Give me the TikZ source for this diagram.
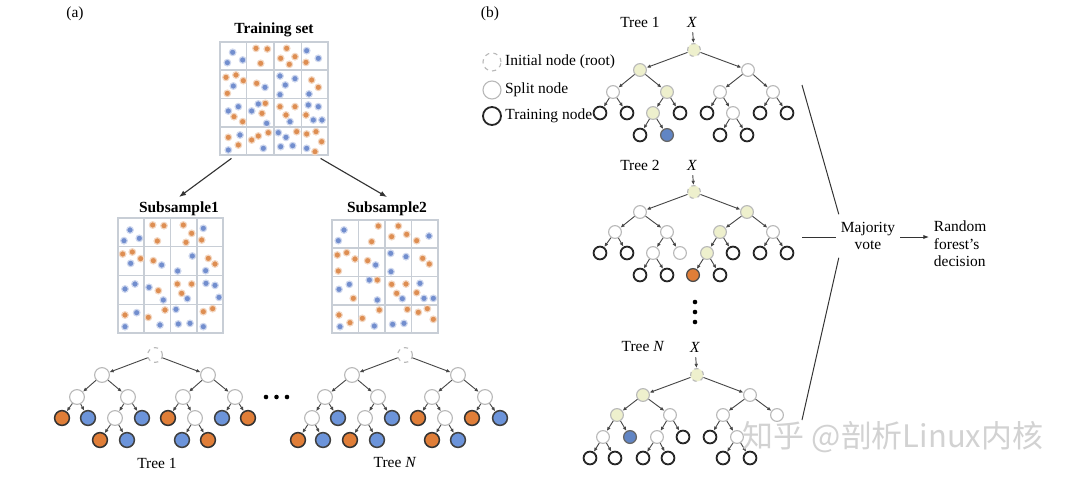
\documentclass[tikz,border=0pt]{standalone}
\usepackage{fontspec}
\setmainfont{Liberation Serif}
\newfontfamily\cjkfont{Noto Sans CJK SC}
\usetikzlibrary{arrows.meta,calc,positioning}

\definecolor{leaforange}{RGB}{224,126,56}
\definecolor{leafblue}{RGB}{108,148,218}
\definecolor{pathyellow}{RGB}{238,240,205}
\definecolor{dotorange}{RGB}{222,142,82}
\definecolor{dotblue}{RGB}{114,142,206}
\definecolor{gridgray}{RGB}{200,206,214}

\tikzset{
  treenode/.style={circle, minimum size=0.37cm, inner sep=0pt},
  splitnode/.style={treenode, draw=gray!55, line width=0.8pt, fill=white},
  rootnode/.style={splitnode, dashed},
  orangeleaf/.style={treenode, draw=black!80, line width=1.1pt, fill=leaforange},
  blueleaf/.style={treenode, draw=black!75, line width=1.1pt, fill=leafblue},
  % panel (b)
  bnode/.style={circle, minimum size=0.32cm, inner sep=0pt},
  bsplit/.style={bnode, draw=gray!55, line width=0.8pt, fill=white},
  bpath/.style={bsplit, fill=pathyellow},
  broot/.style={bpath, dashed},
  btrain/.style={bnode, draw=black!85, line width=1.3pt, fill=white},
  bblue/.style={bnode, draw=black!60, line width=0.9pt, fill=leafblue!90!black},
  borange/.style={bnode, draw=black!70, line width=0.9pt, fill=leaforange},
  treeedge/.style={draw=black!72, line width=0.65pt, -{Latex[length=3pt,width=2.6pt]}},
  gridbox/.style={draw=gridgray, line width=0.8pt, inner sep=0pt},
  gridline/.style={draw=gridgray, line width=0.8pt},
  odot/.style={fill=dotorange, draw=dotorange!35, line width=0.8pt},
  bdot/.style={fill=dotblue, draw=dotblue!35, line width=0.8pt},
  voteline/.style={draw=black!80, line width=0.7pt}
}

\newcommand{\cellgrid}[1]{%
  \foreach \i in {1,2,3} {
    \draw[gridline] ($(#1.south west)!\i/4!(#1.south east)$) -- ($(#1.north west)!\i/4!(#1.north east)$);
    \draw[gridline] ($(#1.south west)!\i/4!(#1.north west)$) -- ($(#1.south east)!\i/4!(#1.north east)$);
  }}

\begin{document}
\begin{tikzpicture}[x=0.025cm, y=-0.025cm, font=\fontsize{11}{12.5}\selectfont]
  \fill[white] (0,0) rectangle (1080,483);
  \useasboundingbox (0,0) rectangle (1080,483);

  % ---------- panel (a) ----------
  \node (alabel) at (75,14) {(a)};

  \node [gridbox, minimum width=2.7cm, minimum height=2.825cm] (train) at (274,98.5) {};
  \node [font=\bfseries\fontsize{11}{12.5}\selectfont, above=0pt of train] (trainlbl) {Training set};
  \cellgrid{train}

  \node [gridbox, minimum width=2.625cm, minimum height=2.875cm] (sub1) at (170.5,275.5) {};
  \node [font=\bfseries\fontsize{11}{12.5}\selectfont] (sub1lbl) at (179,209) {Subsample1};
  \cellgrid{sub1}

  \node [gridbox, minimum width=2.65cm, minimum height=2.825cm] (sub2) at (385,276.5) {};
  \node [font=\bfseries\fontsize{11}{12.5}\selectfont] (sub2lbl) at (387,209) {Subsample2};
  \cellgrid{sub2}

  \draw [-{Latex[length=5pt]}, line width=0.8pt, black!80] ([xshift=0.3cm,yshift=-2pt]train.south west) -- (sub1lbl.north);
  \draw [-{Latex[length=5pt]}, line width=0.8pt, black!80] ([xshift=-0.2cm,yshift=-2pt]train.south east) -- (sub2lbl.north);

  % data points
  \begin{scope}[shift={(200,0)}, scale=1/3]
    \foreach \x/\y in {168/145,202/147,182/190,260/145,242/175,285/170,268/193,318/187,78/232,108/225,130/242,82/280,170/250,335/240,355/262,102/350,128/365,196/310,186/340,240/320,285/320,258/345,318/345,85/412,115/435,155/420,175/408,205/398,290/395,320/402,348/395,365/425,345/455}
      \path[odot] (\x,\y) circle (10);
    \foreach \x/\y in {98/157,82/188,128/180,320/152,355/175,100/258,195/262,240/228,285/236,256/255,240/284,327/282,85/333,115/320,175/312,155/333,200/370,270/365,325/315,355/320,340/360,366/360,120/405,85/450,190/445,235/398,258/412,242/440,278/437,320/445}
      \path[bdot] (\x,\y) circle (10);
  \end{scope}
  \begin{scope}[shift={(100,190)}, scale=1/3]
    \foreach \x/\y in {158/105,192/107,172/153,250/105,275/130,258/157,305/150,68/192,97/186,122/206,160/212,325/205,345/222,175/302,232/282,275/282,245/310,75/375,145/382,195/360,310/365,338/356}
      \path[odot] (\x,\y) circle (10);
    \foreach \x/\y in {90/120,72/152,118/145,310/115,92/220,185/225,277/198,233/243,317/242,75/297,105/282,147/292,190/330,262/326,318/280,345/286,357/322,110/368,75/410,180/405,228/358,235/402,270/400,310/410}
      \path[bdot] (\x,\y) circle (10);
  \end{scope}
  \begin{scope}[shift={(320,190)}, scale=1/3]
    \foreach \x/\y in {175/108,155/155,235/108,260/133,215/140,290/152,52/195,80/188,105/207,55/243,143/212,308/205,328/222,100/325,172/270,215/283,258/282,230/310,290/308,57/375,90/398,127/385,178/360,262/358,295/367,322/356,340/388}
      \path[odot] (\x,\y) circle (10);
    \foreach \x/\y in {72/120,55/152,327/138,167/225,212/190,258/200,213/245,57/298,88/283,148/270,172/330,247/326,300/280,312/325,340/325,60/410,163/408,218/403,252/400}
      \path[bdot] (\x,\y) circle (10);
  \end{scope}

  % Tree 1 (a)
  \foreach \n/\x/\y/\s in {a0/155/355/rootnode, a1/102/375/splitnode, a2/208/375/splitnode,
      a3/77/397/splitnode, a4/128/397/splitnode, a5/183/397/splitnode, a6/235/397/splitnode,
      a7/62/418/orangeleaf, a8/88/418/blueleaf, a9/115/418/splitnode, a10/142/418/blueleaf,
      a11/168/418/orangeleaf, a12/195/418/splitnode, a13/222/418/blueleaf, a14/248/418/orangeleaf,
      a15/100/440/orangeleaf, a16/127/440/blueleaf, a17/182/440/blueleaf, a18/208/440/orangeleaf}
    \node [\s] (\n) at (\x,\y) {};
  \foreach \u/\v in {a0/a1,a0/a2,a1/a3,a1/a4,a2/a5,a2/a6,a3/a7,a3/a8,a4/a9,a4/a10,a5/a11,a5/a12,a6/a13,a6/a14,a9/a15,a9/a16,a12/a17,a12/a18}
    \draw [treeedge] (\u) -- (\v);
  \node (atree1) at (157,463) {Tree 1};

  \foreach \x in {266,276.5,287}
    \fill (\x,397) circle (2.3);

  % Tree N (a)
  \foreach \n/\x/\y/\s in {n0/405/355/rootnode, n1/352/375/splitnode, n2/458/375/splitnode,
      n3/325/397/splitnode, n4/378/397/splitnode, n5/432/397/splitnode, n6/485/397/splitnode,
      n7/312/418/splitnode, n8/338/418/blueleaf, n9/365/418/splitnode, n10/392/418/blueleaf,
      n11/418/418/orangeleaf, n12/445/418/splitnode, n13/472/418/orangeleaf, n14/500/418/blueleaf,
      n15/298/440/orangeleaf, n16/323/440/blueleaf, n17/350/440/orangeleaf, n18/377/440/blueleaf,
      n19/432/440/orangeleaf, n20/458/440/blueleaf}
    \node [\s] (\n) at (\x,\y) {};
  \foreach \u/\v in {n0/n1,n0/n2,n1/n3,n1/n4,n2/n5,n2/n6,n3/n7,n3/n8,n4/n9,n4/n10,n5/n11,n5/n12,n6/n13,n6/n14,n7/n15,n7/n16,n9/n17,n9/n18,n12/n19,n12/n20}
    \draw [treeedge] (\u) -- (\v);
  \node (atreeN) at (395,463) {Tree \textit{N}};

  % ---------- panel (b) ----------
  \node (blabel) at (490,14) {(b)};

  % legend
  \node [bsplit, dashed, minimum size=0.45cm] (lgroot) at (492,62) {};
  \node [right=-1pt of lgroot] (lgroottxt) {Initial node (root)};
  \node [bsplit, minimum size=0.45cm] (lgsplit) at (492,90) {};
  \node [right=-1pt of lgsplit] (lgsplittxt) {Split node};
  \node [btrain, minimum size=0.45cm] (lgtrain) at (492,116) {};
  \node [right=-1pt of lgtrain] (lgtraintxt) {Training node};

  % Tree 1 (b)
  \node (ptitle) at (640,22) {Tree 1};
  \node (px) at (692,22) {\textit{X}};
  \foreach \n/\x/\y/\s in {p0/694/50/broot, p1/640/70/bpath, p2/748/70/bsplit,
      p3/613/92/bsplit, p4/667/92/bpath, p5/720/92/bsplit, p6/773/92/bsplit,
      p7/600/113/btrain, p8/627/113/btrain, p9/653/113/bpath, p10/680/113/btrain,
      p11/707/113/btrain, p12/733/113/bsplit, p13/760/113/btrain, p14/787/113/btrain,
      p15/640/135/btrain, p16/667/135/bblue, p17/720/135/btrain, p18/747/135/btrain}
    \node [\s] (\n) at (\x,\y) {};
  \foreach \u/\v in {px/p0,p0/p1,p0/p2,p1/p3,p1/p4,p2/p5,p2/p6,p3/p7,p3/p8,p4/p9,p4/p10,p5/p11,p5/p12,p6/p13,p6/p14,p9/p15,p9/p16,p12/p17,p12/p18}
    \draw [treeedge] (\u) -- (\v);

  % Tree 2 (b)
  \node (qtitle) at (640,165) {Tree 2};
  \node (qx) at (692,165) {\textit{X}};
  \foreach \n/\x/\y/\s in {q0/694/192/broot, q1/640/212/bsplit, q2/747/212/bpath,
      q3/615/232/bsplit, q4/667/232/bsplit, q5/720/232/bpath, q6/773/232/bsplit,
      q7/600/253/btrain, q8/627/253/btrain, q9/653/253/bsplit, q10/680/253/bsplit,
      q11/707/253/bpath, q12/733/253/btrain, q13/760/253/btrain, q14/787/253/btrain,
      q15/640/275/btrain, q16/667/275/btrain, q17/693/275/borange, q18/720/275/btrain}
    \node [\s] (\n) at (\x,\y) {};
  \foreach \u/\v in {qx/q0,q0/q1,q0/q2,q1/q3,q1/q4,q2/q5,q2/q6,q3/q7,q3/q8,q4/q9,q4/q10,q5/q11,q5/q12,q6/q13,q6/q14,q9/q15,q9/q16,q11/q17,q11/q18}
    \draw [treeedge] (\u) -- (\v);

  \foreach \y in {302,312,322}
    \fill (695,\y) circle (2.3);

  % Tree N (b)
  \node (rtitle) at (643,347) {Tree \textit{N}};
  \node (rx) at (695,347) {\textit{X}};
  \foreach \n/\x/\y/\s in {r0/697/375/broot, r1/643/395/bpath, r2/750/395/bsplit,
      r3/617/415/bpath, r4/670/415/bsplit, r5/723/415/bsplit, r6/777/415/bsplit,
      r7/603/437/bsplit, r8/630/437/bblue, r9/657/437/bsplit, r10/683/437/btrain,
      r11/710/437/btrain, r12/737/437/bsplit,
      r13/590/458/btrain, r14/615/458/btrain, r15/643/458/btrain, r16/668/458/btrain,
      r17/723/458/btrain, r18/750/458/btrain}
    \node [\s] (\n) at (\x,\y) {};
  \foreach \u/\v in {rx/r0,r0/r1,r0/r2,r1/r3,r1/r4,r2/r5,r2/r6,r3/r7,r3/r8,r4/r9,r4/r10,r5/r11,r5/r12,r7/r13,r7/r14,r9/r15,r9/r16,r12/r17,r12/r18}
    \draw [treeedge] (\u) -- (\v);

  % voting
  \node [align=center] (vote) at (868,236) {Majority\\vote};
  \node [align=left, anchor=west] (decision) at (929,244) {Random\\forest's\\decision};
  \coordinate (from1) at (802,85);
  \coordinate (from2) at (802,237);
  \coordinate (fromN) at (802,420);
  \draw [voteline] (from1) -- ([xshift=2pt,yshift=2pt]vote.north west);
  \draw [voteline] (from2) -- (vote.west |- from2);
  \draw [voteline] (fromN) -- ([xshift=2pt,yshift=-2pt]vote.south west);
  \draw [-{Latex[length=4pt]}, line width=0.7pt, black!80] (vote.east |- from2) -- (decision.west |- from2);

  % watermark
  \node [anchor=west, text=gray!35, font=\cjkfont\fontsize{22}{24}\selectfont] (mark) at (738,437) {知乎 @剖析Linux内核};
\end{tikzpicture}
\end{document}
